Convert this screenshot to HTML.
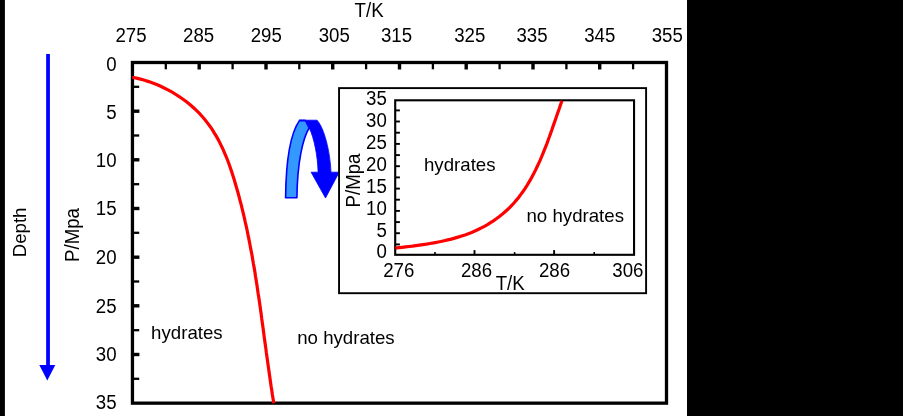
<!DOCTYPE html>
<html><head><meta charset="utf-8">
<style>
html,body{margin:0;padding:0;background:#fff;}
body{width:903px;height:416px;overflow:hidden;position:relative;font-family:"Liberation Sans",sans-serif;}
svg{position:absolute;left:0;top:0;display:block;will-change:transform;}
text{font-family:"Liberation Sans",sans-serif;font-size:18.67px;fill:#000;}
.m{text-anchor:middle;}
.e{text-anchor:end;}
</style></head>
<body>
<svg width="903" height="416" viewBox="0 0 903 416">

<rect x="0" y="0" width="4.9" height="416" fill="#000"/>
<rect x="687" y="0" width="216" height="416" fill="#000"/>

<!-- main frame -->
<rect x="132.45" y="62.5" width="534.05" height="340.65" fill="none" stroke="#000" stroke-width="3.3"/>
<g stroke="#000" stroke-width="3.4">
<line x1="199.2" y1="63.5" x2="199.2" y2="69.5"/>
<line x1="266.0" y1="63.5" x2="266.0" y2="69.5"/>
<line x1="332.7" y1="63.5" x2="332.7" y2="69.5"/>
<line x1="399.5" y1="63.5" x2="399.5" y2="69.5"/>
<line x1="466.2" y1="63.5" x2="466.2" y2="69.5"/>
<line x1="533.0" y1="63.5" x2="533.0" y2="69.5"/>
<line x1="599.7" y1="63.5" x2="599.7" y2="69.5"/>
<line x1="133.45" y1="111.2" x2="139.4" y2="111.2"/>
<line x1="133.45" y1="159.8" x2="139.4" y2="159.8"/>
<line x1="133.45" y1="208.5" x2="139.4" y2="208.5"/>
<line x1="133.45" y1="257.2" x2="139.4" y2="257.2"/>
<line x1="133.45" y1="305.8" x2="139.4" y2="305.8"/>
<line x1="133.45" y1="354.5" x2="139.4" y2="354.5"/>
</g>
<g stroke="#000" stroke-width="2.3">
<line x1="165.8" y1="63.5" x2="165.8" y2="69.3"/>
<line x1="232.6" y1="63.5" x2="232.6" y2="69.3"/>
<line x1="299.3" y1="63.5" x2="299.3" y2="69.3"/>
<line x1="366.1" y1="63.5" x2="366.1" y2="69.3"/>
<line x1="432.9" y1="63.5" x2="432.9" y2="69.3"/>
<line x1="499.6" y1="63.5" x2="499.6" y2="69.3"/>
<line x1="566.4" y1="63.5" x2="566.4" y2="69.3"/>
<line x1="633.1" y1="63.5" x2="633.1" y2="69.3"/>
<line x1="133.45" y1="86.8" x2="139.2" y2="86.8"/>
<line x1="133.45" y1="135.5" x2="139.2" y2="135.5"/>
<line x1="133.45" y1="184.2" x2="139.2" y2="184.2"/>
<line x1="133.45" y1="232.8" x2="139.2" y2="232.8"/>
<line x1="133.45" y1="281.5" x2="139.2" y2="281.5"/>
<line x1="133.45" y1="330.2" x2="139.2" y2="330.2"/>
<line x1="133.45" y1="378.8" x2="139.2" y2="378.8"/>
</g>

<!-- top labels -->
<text class="m" transform="translate(131,41.9) scale(1,1.05)">275</text>
<text class="m" transform="translate(198.6,41.9) scale(1,1.05)">285</text>
<text class="m" transform="translate(266.3,41.9) scale(1,1.05)">295</text>
<text class="m" transform="translate(334.2,41.9) scale(1,1.05)">305</text>
<text class="m" transform="translate(396.5,41.9) scale(1,1.05)">315</text>
<text class="m" transform="translate(469.7,41.9) scale(1,1.05)">325</text>
<text class="m" transform="translate(532,41.9) scale(1,1.05)">335</text>
<text class="m" transform="translate(599.8,41.9) scale(1,1.05)">345</text>
<text class="m" transform="translate(667.3,41.9) scale(1,1.05)">355</text>
<text class="m" transform="translate(369.1,17.4) scale(1,1.05)">T/K</text>

<!-- left labels -->
<text class="e" transform="translate(116.6,70.5) scale(1,1.05)">0</text>
<text class="e" transform="translate(116.6,118.8) scale(1,1.05)">5</text>
<text class="e" transform="translate(116.6,167.1) scale(1,1.05)">10</text>
<text class="e" transform="translate(116.6,215.3) scale(1,1.05)">15</text>
<text class="e" transform="translate(116.6,264.2) scale(1,1.05)">20</text>
<text class="e" transform="translate(116.6,312.5) scale(1,1.05)">25</text>
<text class="e" transform="translate(116.6,361.2) scale(1,1.05)">30</text>
<text class="e" transform="translate(116.6,409.4) scale(1,1.05)">35</text>

<text class="m" transform="translate(26.1,232.4) rotate(-90) scale(1,1.02)">Depth</text>
<text class="m" transform="translate(78.7,235.0) rotate(-90) scale(1,1.04)">P/Mpa</text>

<!-- blue arrow -->
<rect x="46.15" y="54" width="3.75" height="312" fill="#0000ff"/>
<polygon points="39.3,364.9 55.3,364.9 47.3,380.4" fill="#0000ff"/>

<!-- main curve -->
<path id="mc" fill="none" stroke="#ff0000" stroke-width="3.2" stroke-linecap="butt" d="M132.2,77.3 L136.4,78.1 L140.5,79.1 L144.6,80.3 L148.7,81.6 L152.7,83.0 L156.7,84.6 L160.7,86.3 L164.6,88.2 L168.4,90.1 L172.2,92.2 L175.9,94.5 L179.5,96.8 L183.0,99.3 L186.5,101.8 L189.8,104.5 L193.0,107.3 L196.1,110.2 L199.2,113.2 L202.0,116.3 L204.8,119.5 L207.4,122.9 L209.9,126.2 L212.3,129.7 L214.5,133.3 L216.7,136.9 L218.7,140.6 L220.6,144.4 L222.5,148.2 L224.2,152.1 L225.9,156.0 L227.5,160.0 L229.0,164.0 L230.4,168.1 L231.8,172.1 L233.1,176.2 L234.4,180.3 L235.6,184.5 L236.8,188.6 L238.0,192.8 L239.1,196.9 L240.2,201.1 L241.3,205.2 L242.3,209.4 L243.3,213.5 L244.3,217.7 L245.2,221.9 L246.2,226.0 L247.1,230.2 L247.9,234.4 L248.8,238.6 L249.6,242.8 L250.4,247.0 L251.2,251.1 L252.0,255.3 L252.7,259.5 L253.4,263.7 L254.2,267.9 L254.9,272.1 L255.5,276.3 L256.2,280.5 L256.9,284.8 L257.5,289.0 L258.1,293.2 L258.8,297.4 L259.4,301.6 L260.0,305.8 L260.6,310.1 L261.2,314.3 L261.7,318.5 L262.3,322.7 L262.9,327.0 L263.5,331.2 L264.0,335.4 L264.6,339.7 L265.2,343.9 L265.8,348.1 L266.3,352.4 L266.9,356.6 L267.5,360.8 L268.1,365.1 L268.7,369.3 L269.3,373.5 L269.9,377.8 L270.5,382.0 L271.1,386.3 L271.8,390.5 L272.4,394.8 L273.1,399.0 L273.8,403.2"/>

<text transform="translate(151.1,338.5) scale(1,0.98)">hydrates</text>
<text transform="translate(297.2,343.5) scale(1,0.98)">no hydrates</text>

<!-- curved arrow -->
<path d="M299,120.2 L317.1,120.2 C324,128 330,150 331,172.2 L339.2,172.2 L325.5,198 L311.1,172.2 L318.1,172.2 C317.6,155 314,138 309.3,128 L305.5,120.2 Z" fill="#0000ff" stroke="#0000ff" stroke-width="0.8" stroke-linejoin="round"/>
<path d="M285.6,197.8 C285.9,165 289.4,135 299.4,120.6 L305.5,120.6 L309.1,128 C303,138 297.3,162 296.9,197.8 Z" fill="#3399ff" stroke="#0000ff" stroke-width="1.6" stroke-linejoin="round"/>
<!-- inset outer frame -->
<rect x="339.05" y="88.1" width="307.05" height="205.1" fill="none" stroke="#000" stroke-width="1.9"/>
<!-- inset inner frame -->
<rect x="395.2" y="100.3" width="238.85" height="154.50" fill="none" stroke="#000" stroke-width="2.1"/>
<g stroke="#000" stroke-width="1.9">
<line x1="395.7" y1="110.4" x2="399.9" y2="110.4"/>
<line x1="395.7" y1="121.5" x2="399.9" y2="121.5"/>
<line x1="395.7" y1="132.7" x2="399.9" y2="132.7"/>
<line x1="395.7" y1="143.9" x2="399.9" y2="143.9"/>
<line x1="395.7" y1="155.1" x2="399.9" y2="155.1"/>
<line x1="395.7" y1="166.2" x2="399.9" y2="166.2"/>
<line x1="395.7" y1="177.4" x2="399.9" y2="177.4"/>
<line x1="395.7" y1="188.6" x2="399.9" y2="188.6"/>
<line x1="395.7" y1="199.7" x2="399.9" y2="199.7"/>
<line x1="395.7" y1="210.9" x2="399.9" y2="210.9"/>
<line x1="395.7" y1="222.1" x2="399.9" y2="222.1"/>
<line x1="395.7" y1="233.2" x2="399.9" y2="233.2"/>
<line x1="395.7" y1="244.4" x2="399.9" y2="244.4"/>
<line x1="474.5" y1="254.3" x2="474.5" y2="250.1"/>
<line x1="554.1" y1="254.3" x2="554.1" y2="250.1"/>
</g>
<g stroke="#000" stroke-width="1.6">
<line x1="435.0" y1="254.3" x2="435.0" y2="252.1"/>
<line x1="514.6" y1="254.3" x2="514.6" y2="252.1"/>
<line x1="594.2" y1="254.3" x2="594.2" y2="252.1"/>
</g>

<!-- inset labels -->
<text class="e" transform="translate(386.8,105.3) scale(1,1.05)">35</text>
<text class="e" transform="translate(386.8,127.3) scale(1,1.05)">30</text>
<text class="e" transform="translate(386.8,149.4) scale(1,1.05)">25</text>
<text class="e" transform="translate(386.8,171.3) scale(1,1.05)">20</text>
<text class="e" transform="translate(386.8,192.8) scale(1,1.05)">15</text>
<text class="e" transform="translate(386.8,214.5) scale(1,1.05)">10</text>
<text class="e" transform="translate(386.8,236.6) scale(1,1.05)">5</text>
<text class="e" transform="translate(386.8,257.9) scale(1,1.05)">0</text>
<text class="m" transform="translate(398.8,276.8) scale(1,1.05)">276</text>
<text class="m" transform="translate(476.5,276.8) scale(1,1.05)">286</text>
<text class="m" transform="translate(554.5,276.8) scale(1,1.05)">286</text>
<text class="m" transform="translate(627.9,276.8) scale(1,1.05)">306</text>
<text class="m" transform="translate(510.2,290.0) scale(1,1.05)">T/K</text>
<text class="m" transform="translate(360,180.5) rotate(-90) scale(1,1.04)">P/Mpa</text>
<text transform="translate(424,171.3) scale(1,0.98)">hydrates</text>
<text transform="translate(526.5,222.4) scale(1,0.98)">no hydrates</text>

<!-- inset curve -->
<path fill="none" stroke="#ff0000" stroke-width="3.2" d="M395.4,248.1 L398.7,247.7 L402.1,247.3 L405.5,246.9 L408.9,246.5 L412.4,246.1 L415.9,245.6 L419.4,245.1 L423.0,244.6 L426.5,244.1 L430.0,243.5 L433.6,242.9 L437.1,242.2 L440.7,241.5 L444.2,240.7 L447.7,239.9 L451.2,239.1 L454.7,238.1 L458.1,237.1 L461.6,236.0 L465.0,234.9 L468.3,233.7 L471.6,232.4 L474.9,231.0 L478.1,229.5 L481.3,227.9 L484.4,226.3 L487.5,224.6 L490.5,222.7 L493.4,220.8 L496.3,218.8 L499.1,216.7 L501.8,214.6 L504.5,212.3 L507.1,210.0 L509.6,207.6 L512.0,205.1 L514.4,202.5 L516.6,199.9 L518.8,197.2 L520.9,194.4 L523.0,191.5 L525.0,188.6 L526.9,185.7 L528.7,182.6 L530.5,179.6 L532.2,176.4 L533.9,173.3 L535.5,170.1 L537.1,166.8 L538.6,163.6 L540.1,160.3 L541.5,157.0 L542.9,153.6 L544.2,150.3 L545.6,146.9 L546.9,143.6 L548.1,140.2 L549.4,136.8 L550.6,133.4 L551.8,130.1 L552.9,126.7 L554.1,123.4 L555.3,120.0 L556.4,116.7 L557.5,113.5 L558.7,110.2 L559.8,107.0 L560.9,103.8 L562.0,100.7"/>
</svg>
</body></html>
